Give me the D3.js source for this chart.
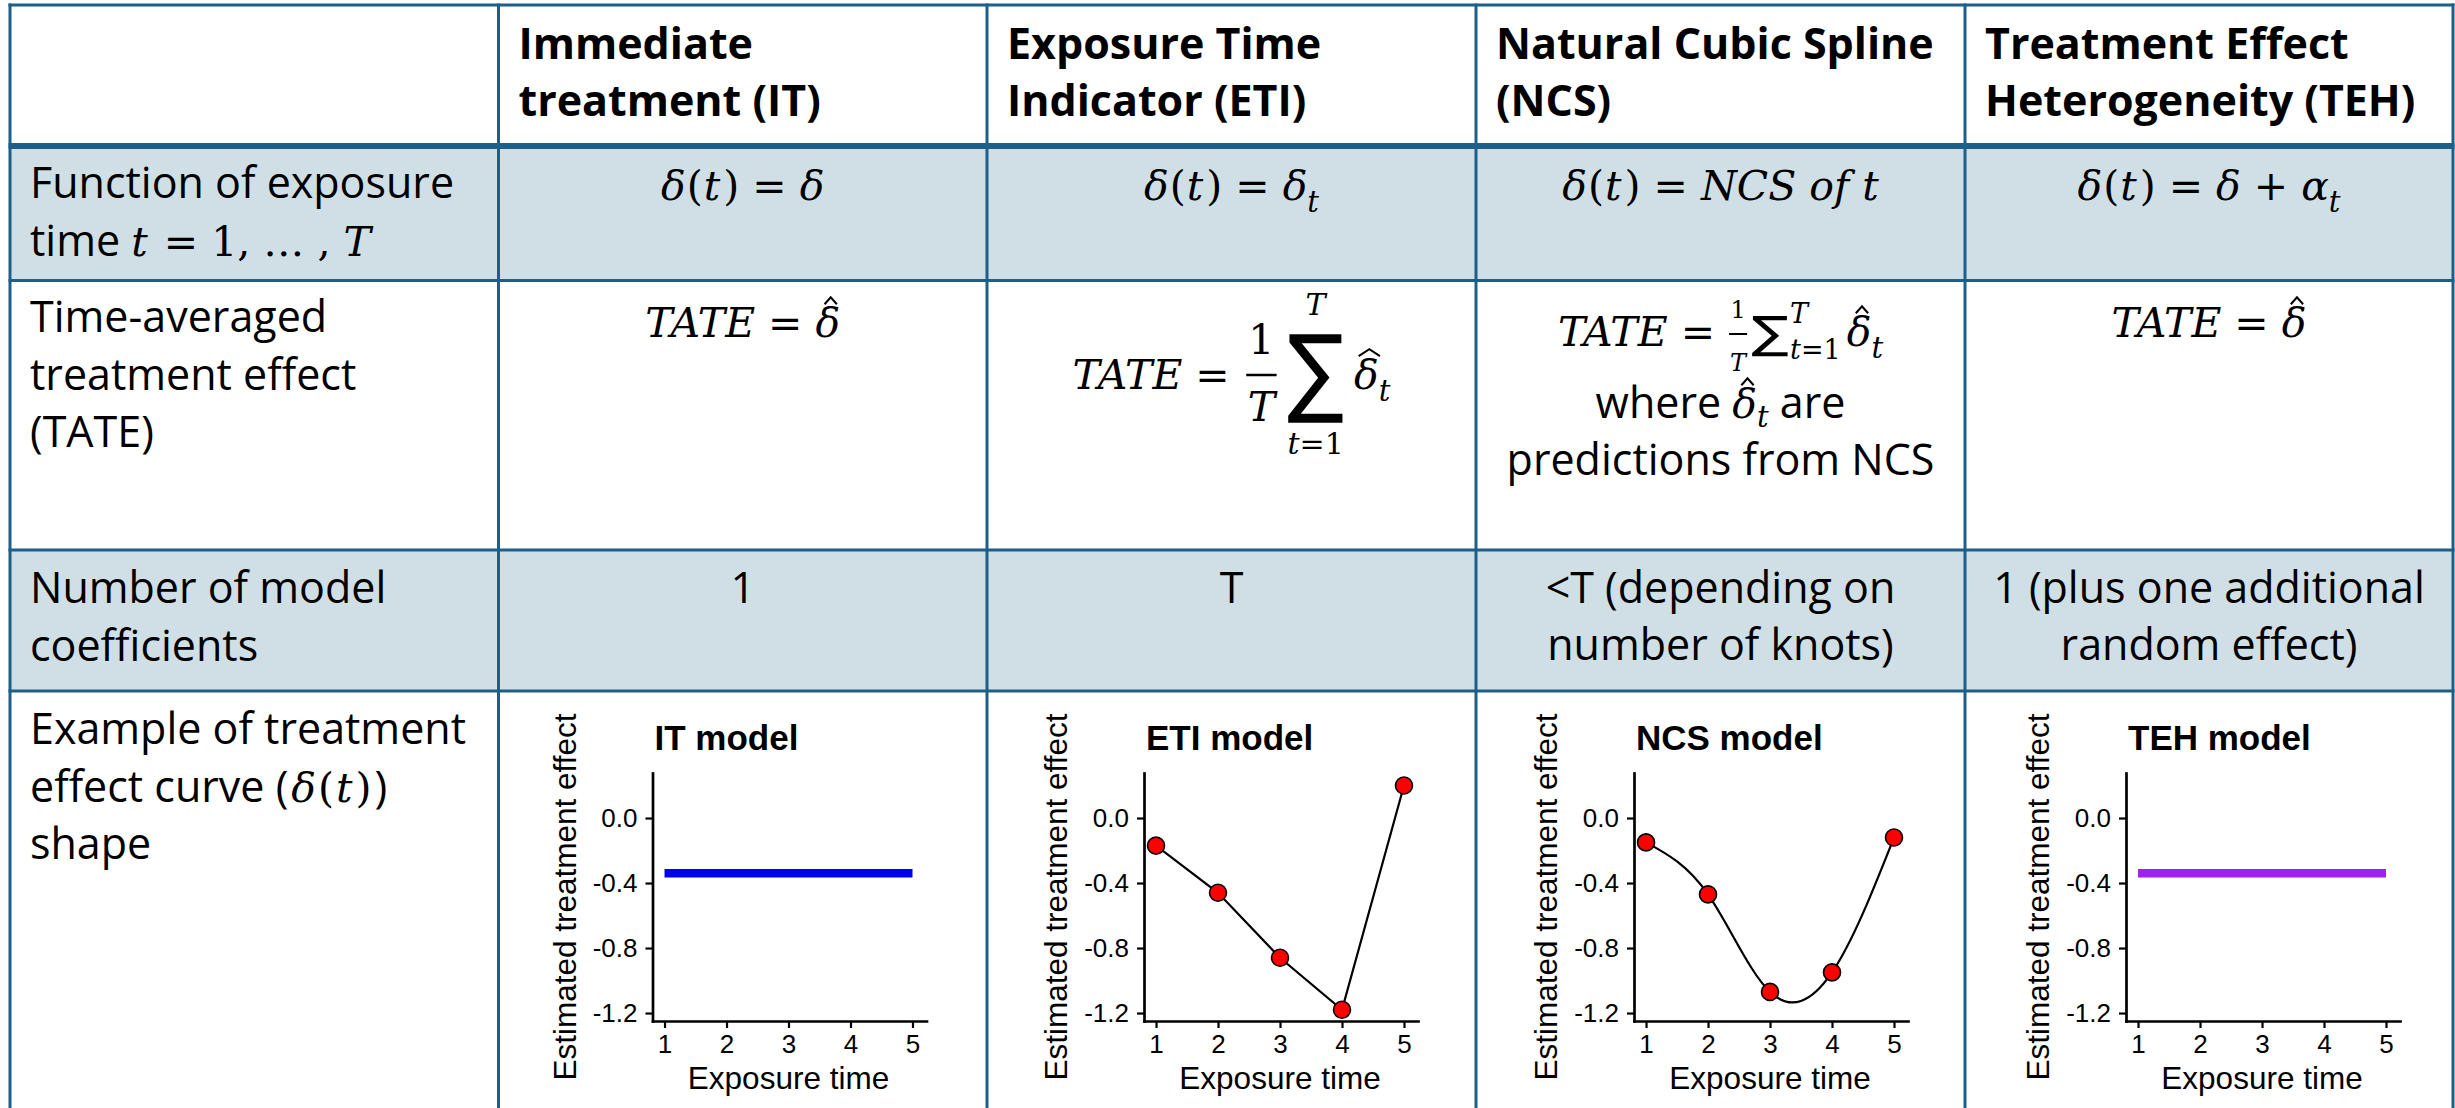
<!DOCTYPE html>
<html>
<head>
<meta charset="utf-8">
<script src="https://cdn.jsdelivr.net/npm/d3@7"></script>
<style>
  body { margin: 0; background: #fff; }
  svg { display: block; }
  text { white-space: pre; }
</style>
</head>
<body>
<svg id="chart" width="2455" height="1108"></svg>
<script>
// ---- table content ----
var headers = [[], ["Immediate", "treatment (IT)"], ["Exposure Time", "Indicator (ETI)"],
               ["Natural Cubic Spline", "(NCS)"], ["Treatment Effect", "Heterogeneity (TEH)"]];
var rowLabels = [["Function of exposure"], ["Time-averaged", "treatment effect", "(TATE)"],
                 ["Number of model", "coefficients"], ["Example of treatment", null, "shape"]];
var coefText = [["1"], ["T"], ["<T (depending on", "number of knots)"], ["1 (plus one additional", "random effect)"]];
var ncsNote = ["predictions from NCS"];

// ---- chart data ----
var modelNames = ["IT model", "ETI model", "NCS model", "TEH model"];
var exposureTime = [1, 2, 3, 4, 5];
var itEffect = [-0.34, -0.34, -0.34, -0.34, -0.34];
var etiEffect = [-0.17, -0.46, -0.86, -1.18, 0.20];
var ncsEffect = [-0.15, -0.47, -1.07, -0.95, -0.12];
var tehEffect = [-0.34, -0.34, -0.34, -0.34, -0.34];
var yTicks = [0.0, -0.4, -0.8, -1.2];

var svg = d3.select("#chart");
var textFont = "'Open Sans', sans-serif";
var mathFont = "'DejaVu Serif', serif";
var opFont = "'DejaVu Sans'";
var plotFont = "'Liberation Sans', Arial, sans-serif";
var lineColor = "#1c5f88";
var shade = "#d0dfe6";
var bodySize = 43, mathSize = 41;

var colX = [10, 498.5, 987, 1476, 1965, 2453];
var rowY = [5, 146, 280.5, 550, 691, 1115];
var center = [];
for (var c = 1; c < 5; c++) center.push((colX[c] + colX[c + 1]) / 2);

// shaded rows
[1, 3].forEach(function(r) {
  svg.append("rect").attr("x", colX[0]).attr("y", rowY[r])
    .attr("width", colX[5] - colX[0]).attr("height", rowY[r + 1] - rowY[r])
    .attr("fill", shade);
});

// grid
colX.forEach(function(x) {
  svg.append("line").attr("x1", x).attr("x2", x).attr("y1", rowY[0] - 1.5).attr("y2", 1108)
    .attr("stroke", lineColor).attr("stroke-width", 3);
});
rowY.slice(0, 5).forEach(function(y, i) {
  svg.append("line").attr("x1", colX[0] - 1.5).attr("x2", colX[5] + 1.5).attr("y1", y).attr("y2", y)
    .attr("stroke", lineColor).attr("stroke-width", i == 1 ? 6 : 3);
});

// ---- text helpers ----
var ctx = document.createElement("canvas").getContext("2d");

function put(g, x, y, s, o) {
  o = o || {};
  var t = g.append("text").attr("x", x).attr("y", y)
    .attr("font-family", o.font || mathFont)
    .attr("font-size", o.size || mathSize)
    .attr("font-style", o.i ? "italic" : "normal")
    .attr("font-weight", o.b ? 700 : 400)
    .attr("text-anchor", o.anchor || "start")
    .attr("fill", "#000");
  if (Array.isArray(s)) {
    s.forEach(function(p) {
      t.append("tspan").attr("font-style", p[1] ? "italic" : "normal").text(p[0]);
    });
  } else t.text(s);
  return t;
}
function wid(t) { return t.node().getComputedTextLength(); }

function I(s, o) { return Object.assign({t: s, i: true}, o); }
function N(s, o) { return Object.assign({t: s}, o); }
function Sub(s) { return {t: s, i: true, size: 29, dy: 12}; }
var txt = {font: textFont, size: bodySize};

// lays out a row of math pieces, then moves it to its place
function formula(x0, base, items, anchor) {
  var g = svg.append("g");
  var x = 0;
  items.forEach(function(it) {
    if (it.frac) {
      var n = put(g, 0, -it.num, it.frac[0], {size: it.size, anchor: "middle"});
      var d = put(g, 0, it.den, it.frac[1], {size: it.size, anchor: "middle", i: true});
      var w = Math.max(wid(n), wid(d)) + 2 * it.pad;
      n.attr("x", x + w / 2);
      d.attr("x", x + w / 2);
      g.append("line").attr("x1", x + it.pad / 2).attr("x2", x + w - it.pad / 2)
        .attr("y1", -it.bar).attr("y2", -it.bar).attr("stroke", "#000").attr("stroke-width", it.bw);
      x += w + it.gap;
    } else if (it.op) {
      ctx.font = "100px " + opFont;
      var m = ctx.measureText(it.op);
      var sx = it.w / (m.actualBoundingBoxLeft + m.actualBoundingBoxRight);
      var sy = it.h / (m.actualBoundingBoxAscent + m.actualBoundingBoxDescent);
      put(g, 0, 0, it.op, {font: opFont, size: 100})
        .attr("transform", "translate(" + (x + m.actualBoundingBoxLeft * sx) + "," +
              (it.top + m.actualBoundingBoxAscent * sy) + ") scale(" + sx + "," + sy + ")");
      if (it.over) put(g, x + it.w / 2, it.overY, it.over, {size: it.limSize, anchor: "middle"});
      if (it.under) put(g, x + it.w / 2, it.underY, it.under, {size: it.limSize, anchor: "middle"});
      x += it.w + it.gap;
    } else if (it.scripts) {
      var a = put(g, x, it.supY, it.scripts[0], {size: it.size});
      var b = put(g, x, it.subY, it.scripts[1], {size: it.size});
      x += Math.max(wid(a), wid(b)) + it.gap;
    } else {
      var size = it.size || mathSize;
      var y0 = it.dy || 0;
      var t = put(g, x, y0, it.t, {font: it.font, size: size, i: it.i});
      var w3 = wid(t);
      if (it.hat) {
        // circumflex accent over the letter
        var hx = x + w3 / 2 + size * 0.07, hw = size * (it.wide ? 0.26 : 0.15);
        g.append("path")
          .attr("d", "M" + (hx - hw) + "," + (y0 - size * 0.80) + "L" + hx + "," + (y0 - size * 0.97) +
                "L" + (hx + hw) + "," + (y0 - size * 0.80))
          .attr("fill", "none").attr("stroke", "#000").attr("stroke-width", size * 0.05)
          .attr("stroke-linejoin", "miter");
      }
      x += w3 + (it.gap || 0);
    }
  });
  var left = anchor == "start" ? x0 : x0 - x / 2;
  g.attr("transform", "translate(" + left + "," + base + ")");
}

// ---- header row ----
headers.forEach(function(h, i) {
  h.forEach(function(s, k) {
    put(svg, colX[i] + 20, 59 + k * 57, s, {font: textFont, size: bodySize, b: true});
  });
});

// ---- first column ----
var rowBase = [198, 332, 603, 744];
rowLabels.forEach(function(lines, r) {
  lines.forEach(function(s, k) {
    if (s) put(svg, 30, rowBase[r] + k * 57.5, s, txt);
  });
});
formula(30, 256, [N("time ", txt), I("t", {gap: 3}), N(" = 1, … , "), I("T")], "start");
formula(30, 802, [N("effect curve (", Object.assign({gap: 3}, txt)), I("δ", {gap: 2}), N("(", {gap: 2}),
  I("t", {gap: 3}), N(")", {gap: 3}), N(")", txt)], "start");

// ---- row 1: function of exposure time ----
function dt() { return [I("δ", {gap: 1}), N("(", {gap: 1}), I("t", {gap: 3}), N(")"), N(" = ")]; }
formula(center[0], 200, dt().concat([I("δ")]));
formula(center[1], 200, dt().concat([I("δ"), Sub("t")]));
formula(center[2], 200, dt().concat([I("NCS of t")]));
formula(center[3], 200, dt().concat([I("δ"), N(" + "), I("α"), Sub("t")]));

// ---- row 2: TATE ----
formula(center[0], 337, [I("TATE"), N(" = "), I("δ", {hat: true})]);
formula(center[3], 337, [I("TATE"), N(" = "), I("δ", {hat: true})]);
formula(center[1], 389, [I("TATE"), N(" = ", {gap: 2}),
  {frac: ["1", "T"], size: 41, num: 35, den: 32, bar: 14, pad: 3, bw: 2.5, gap: 10},
  {op: "∑", w: 55, h: 89, top: -55, over: [["T", 1]], overY: -74, under: [["t", 1], ["=1", 0]], underY: 65, limSize: 30, gap: 11},
  I("δ", {hat: true, wide: true}), Sub("t")]);
formula(center[2], 346, [I("TATE"), N(" = "),
  {frac: ["1", "T"], size: 24, num: 28, den: 25, bar: 12, pad: 2, bw: 2, gap: 4},
  {op: "∑", w: 36, h: 41, top: -30, gap: 2},
  {scripts: [[["T", 1]], [["t", 1], ["=1", 0]]], supY: -23, subY: 13, size: 27, gap: 6},
  I("δ", {hat: true}), Sub("t")]);
formula(center[2], 418, [N("where ", txt), I("δ", {hat: true}), {t: "t", i: true, size: 29, dy: 9}, N(" are", txt)]);
ncsNote.forEach(function(s) {
  put(svg, center[2], 475, s, {font: textFont, size: bodySize, anchor: "middle"});
});

// ---- row 3: number of coefficients ----
coefText.forEach(function(lines, i) {
  lines.forEach(function(s, k) {
    put(svg, center[i], 603 + k * 57, s, {font: textFont, size: bodySize, anchor: "middle"});
  });
});

// ---- row 4: example curves ----
var panels = [
  {values: itEffect, kind: "flat", color: "#0000f0"},
  {values: etiEffect, kind: "linear"},
  {values: ncsEffect, kind: "natural"},
  {values: tehEffect, kind: "flat", color: "#a020f0"}
];
var axisShift = [154, 157, 158, 161];

panels.forEach(function(p, i) {
  var ax = colX[i + 1] + axisShift[i];
  var x = d3.scaleLinear().domain([0.806, 5.226]).range([ax, ax + 274]);
  var y = d3.scaleLinear().domain([-1.249, 0.277]).range([1021, 773]);
  var g = svg.append("g");

  var xa = g.append("g").attr("transform", "translate(0,1021)")
    .call(d3.axisBottom(x).tickValues(exposureTime).tickSize(7).tickSizeOuter(0).tickPadding(7)
      .tickFormat(d3.format("d")));
  var ya = g.append("g").attr("transform", "translate(" + ax + ",0)")
    .call(d3.axisLeft(y).tickValues(yTicks).tickSize(7).tickSizeOuter(0).tickPadding(8)
      .tickFormat(function(d) { return d.toFixed(1); }));
  [xa, ya].forEach(function(a) {
    a.attr("font-family", plotFont).attr("font-size", 26);
    a.select(".domain").attr("stroke", "#000").attr("stroke-width", 2.7).attr("stroke-linecap", "square");
    a.selectAll(".tick line").attr("stroke", "#000").attr("stroke-width", 2.2);
    a.selectAll(".tick text").attr("fill", "#000");
  });

  var pts = exposureTime.map(function(t, k) { return {t: t, v: p.values[k]}; });
  var line = d3.line().x(function(d) { return x(d.t); }).y(function(d) { return y(d.v); })
    .curve(p.kind == "natural" ? d3.curveNatural : d3.curveLinear);

  if (p.kind == "flat") {
    g.append("path").datum(pts).attr("d", line).attr("fill", "none")
      .attr("stroke", p.color).attr("stroke-width", 8.5);
  } else {
    g.append("path").datum(pts).attr("d", line).attr("fill", "none")
      .attr("stroke", "#000").attr("stroke-width", 2.2);
    g.selectAll("circle").data(pts).enter().append("circle")
      .attr("cx", function(d) { return x(d.t); })
      .attr("cy", function(d) { return y(d.v); })
      .attr("r", 8.5).attr("fill", "#ff0000").attr("stroke", "#000").attr("stroke-width", 1.6);
  }

  put(g, ax + 2, 750, modelNames[i], {font: plotFont, size: 35, b: true});
  put(g, x(3), 1089, "Exposure time", {font: plotFont, size: 31.5, anchor: "middle"});
  put(g, 0, 0, "Estimated treatment effect", {font: plotFont, size: 31.5, anchor: "middle"})
    .attr("transform", "translate(" + (ax - 77) + ",897) rotate(-90)");
});
</script>
</body>
</html>
